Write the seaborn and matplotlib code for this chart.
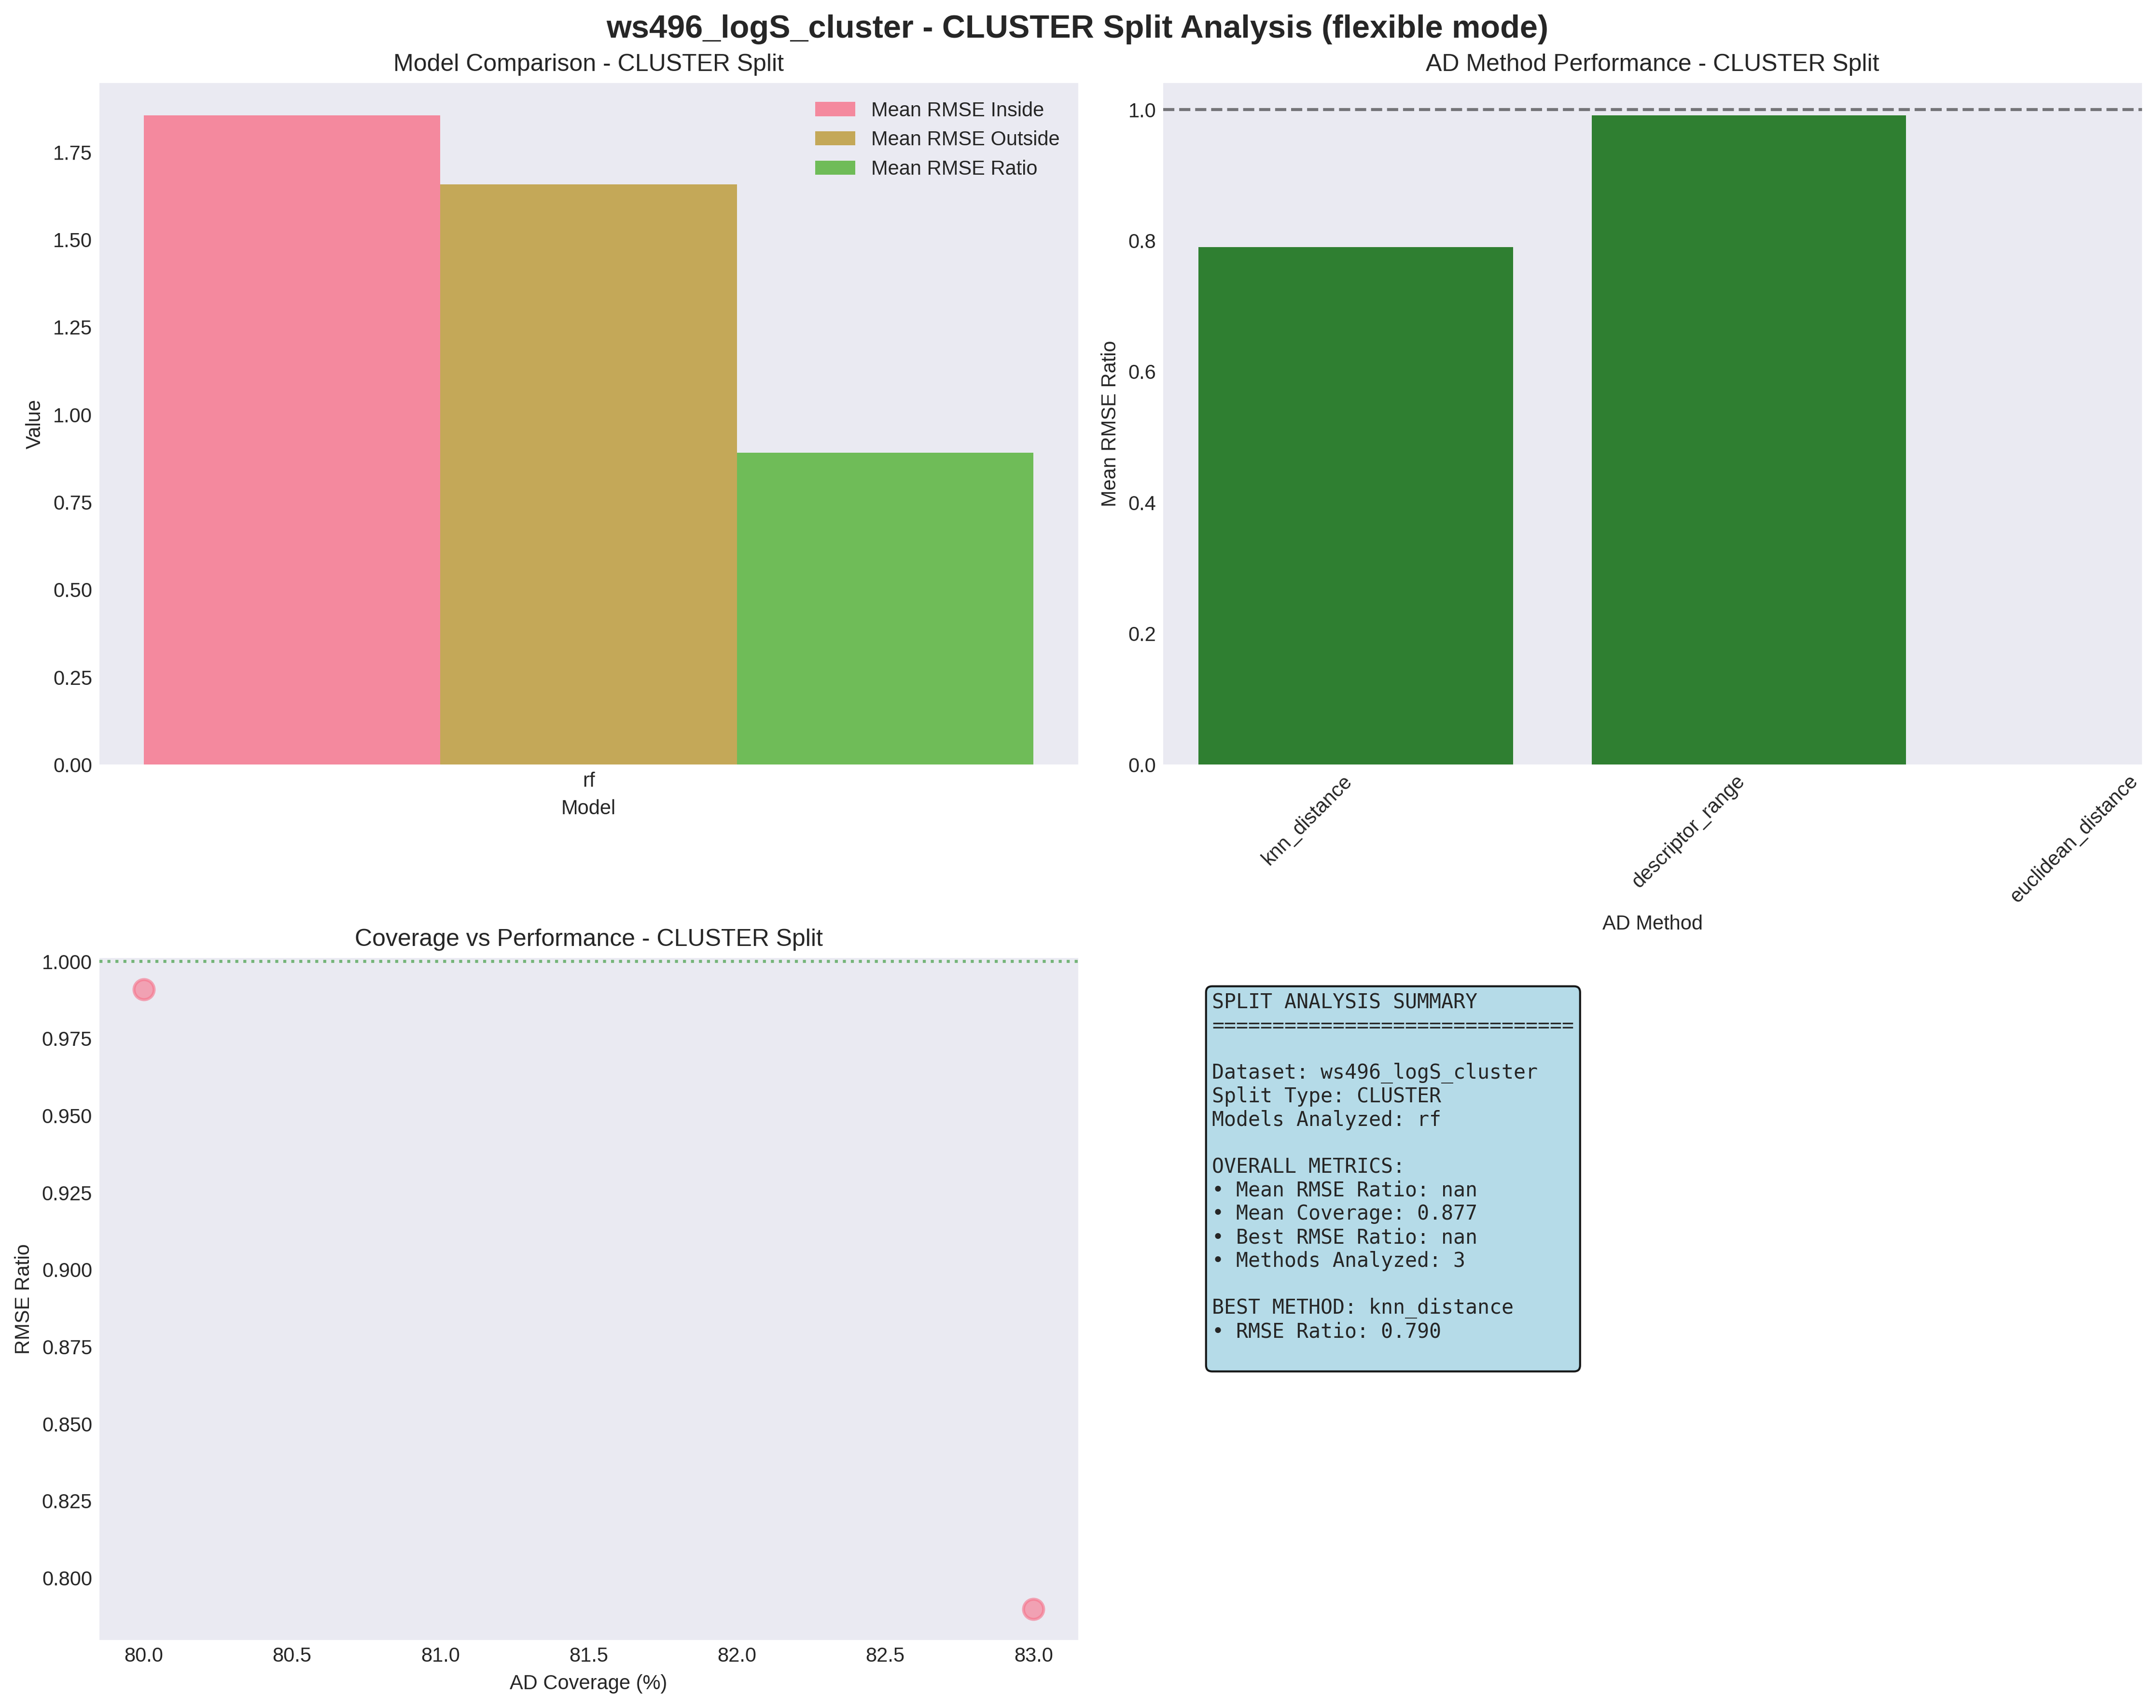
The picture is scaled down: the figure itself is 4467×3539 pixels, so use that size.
import numpy as np
import pandas as pd
import seaborn as sns
from matplotlib import pyplot as plt

# data
models = ["rf"]
rmse_inside = [1.855]
rmse_outside = [1.658]
rmse_ratio_mean = [0.891]

ad_methods = ["knn_distance", "descriptor_range", "euclidean_distance"]
method_ratio = [0.790, 0.991, np.nan]
method_coverage = [83.0, 80.0, 100.0]

summary_lines = [
    "SPLIT ANALYSIS SUMMARY",
    "==============================",
    "",
    "Dataset: ws496_logS_cluster",
    "Split Type: CLUSTER",
    "Models Analyzed: rf",
    "",
    "OVERALL METRICS:",
    "\u2022 Mean RMSE Ratio: nan",
    "\u2022 Mean Coverage: 0.877",
    "\u2022 Best RMSE Ratio: nan",
    "\u2022 Methods Analyzed: 3",
    "",
    "BEST METHOD: knn_distance",
    "\u2022 RMSE Ratio: 0.790",
    "",
]

plt.style.use("seaborn-v0_8-darkgrid")
sns.set_palette("husl")
pal = sns.color_palette()
plt.rcParams['font.family'] = ['Liberation Sans', 'DejaVu Sans']

fig, axes = plt.subplots(2, 2, figsize=(15, 12))
fig.suptitle("ws496_logS_cluster - CLUSTER Split Analysis (flexible mode)",
             fontsize=16, fontweight='bold')

# model comparison
ax = axes[0, 0]
model_df = pd.DataFrame({
    "Model": models * 3,
    "metric": ["Mean RMSE Inside"] * len(models) + ["Mean RMSE Outside"] * len(models)
              + ["Mean RMSE Ratio"] * len(models),
    "value": rmse_inside + rmse_outside + rmse_ratio_mean,
})
sns.barplot(data=model_df, x="Model", y="value", hue="metric", alpha=0.8,
            errorbar=None, saturation=1, ax=ax)
ax.set_xlim(-0.44, 0.44)
ax.set_title("Model Comparison - CLUSTER Split", fontsize=12)
ax.set_xlabel("Model")
ax.set_ylabel("Value")
ax.legend(title=None, loc="upper right", fontsize=10, frameon=False)
ax.grid(False)

# AD method performance
ax = axes[0, 1]
meth_df = pd.DataFrame({"method": ad_methods, "ratio": method_ratio})
sns.barplot(data=meth_df, x="method", y="ratio", order=ad_methods, color="darkgreen",
            alpha=0.8, saturation=1, errorbar=None, ax=ax)
ax.axhline(y=1.0, color='black', linestyle='--', alpha=0.5, linewidth=1.5)
ax.set_xlim(-0.49, 2.0)
ax.set_title("AD Method Performance - CLUSTER Split", fontsize=12)
ax.set_xlabel("AD Method")
ax.set_ylabel("Mean RMSE Ratio")
plt.setp(ax.get_xticklabels(), rotation=45, ha='right')
ax.grid(False)

# coverage vs performance
ax = axes[1, 0]
cov_df = pd.DataFrame({"coverage": method_coverage, "ratio": method_ratio})
sns.scatterplot(data=cov_df, x="coverage", y="ratio", s=100, alpha=0.6, color=pal[0],
                edgecolor=pal[0], linewidth=1.5, ax=ax)
ax.axhline(y=1.0, color='green', linestyle=':', alpha=0.5, linewidth=1.5)
ax.set_title("Coverage vs Performance - CLUSTER Split", fontsize=12)
ax.set_xlabel("AD Coverage (%)")
ax.set_ylabel("RMSE Ratio")
ax.grid(False)

# summary text
ax = axes[1, 1]
ax.axis('off')
ax.text(0.05, 0.95, "\n".join(summary_lines), transform=ax.transAxes,
        fontsize=10, va='top', family='monospace',
        bbox=dict(boxstyle='round', facecolor='lightblue', alpha=0.9))

plt.tight_layout()
plt.savefig("out.png", dpi=300, bbox_inches='tight')
